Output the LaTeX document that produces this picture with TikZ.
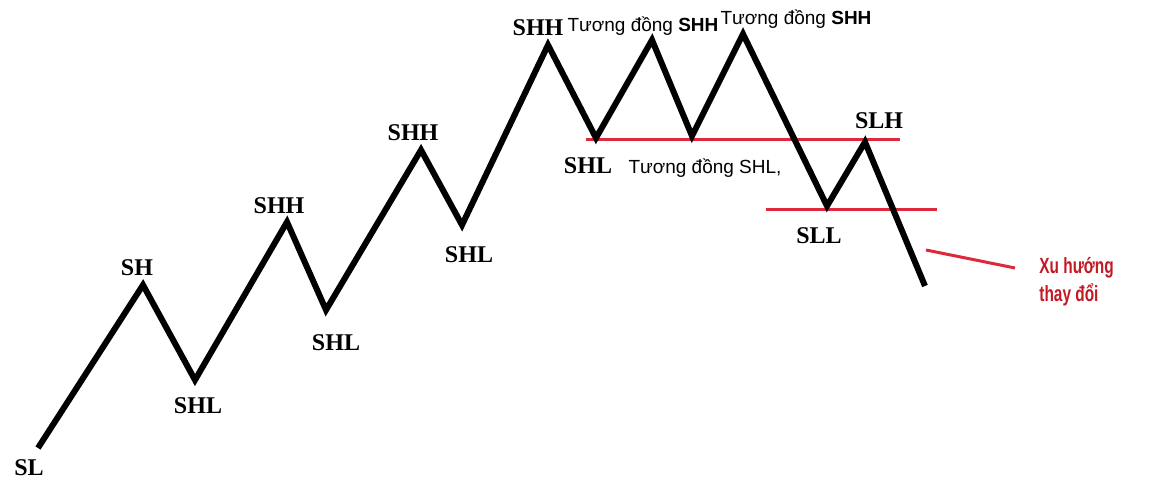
\documentclass[tikz,border=0pt]{standalone}
\usepackage{fontspec}
\setmainfont{Liberation Serif}
\newfontfamily\labsans{Liberation Sans}
\newfontfamily\notefont[FakeStretch=0.7]{Liberation Sans}
\definecolor{lvl}{RGB}{222,40,60}
\definecolor{note}{RGB}{195,25,35}
\begin{document}
\begin{tikzpicture}[x=0.5pt,y=-0.5pt,
  swing/.style={line width=3pt,black,line join=miter},
  level/.style={line width=1.5pt,lvl},
  pt/.style={font=\bfseries\fontsize{12}{14}\selectfont,inner sep=0pt},
  same/.style={font=\labsans\fontsize{9.5}{11}\selectfont,inner sep=0pt},
  notetext/.style={font=\notefont\bfseries\fontsize{11}{14}\selectfont,text=note,inner sep=0pt,align=left}]
\useasboundingbox (0,0) rectangle (1149,485);
% swing points
\coordinate (p0) at (38,448);
\coordinate (p1) at (143,285);
\coordinate (p2) at (195,380);
\coordinate (p3) at (287,222);
\coordinate (p4) at (326,310);
\coordinate (p5) at (421,150);
\coordinate (p6) at (462,225);
\coordinate (p7) at (548,45);
\coordinate (p8) at (596,138);
\coordinate (p9) at (652,40);
\coordinate (p10) at (692,136);
\coordinate (p11) at (743,34);
\coordinate (p12) at (827,206);
\coordinate (p13) at (865,142);
\coordinate (p14) at (925,286);
% red levels
\coordinate (a1) at (586,140);
\coordinate (a2) at (900,140);
\coordinate (b1) at (766,210);
\coordinate (b2) at (937,210);
\coordinate (c1) at (926,250);
\coordinate (c2) at (1015,268);
\draw[level] (a1) -- (a2);
\draw[level] (b1) -- (b2);
\draw[level] (c1) -- (c2);
\draw[swing] (p0) -- (p1) -- (p2) -- (p3) -- (p4) -- (p5) -- (p6) -- (p7) -- (p8) -- (p9) -- (p10) -- (p11) -- (p12) -- (p13) -- (p14);
% labels
\node[pt] (lSL) at (29,468) {SL};
\node[pt] (lSH) at (137,268) {SH};
\node[pt] (lSHL1) at (198,406) {SHL};
\node[pt] (lSHH1) at (279,206) {SHH};
\node[pt] (lSHL2) at (336,343) {SHL};
\node[pt] (lSHH2) at (413,133) {SHH};
\node[pt] (lSHL3) at (469,255) {SHL};
\node[pt] (lSHH3) at (538,28) {SHH};
\node[pt] (lSHL4) at (588,166) {SHL};
\node[pt] (lSLH) at (879,121) {SLH};
\node[pt] (lSLL) at (819,236) {SLL};
\node[same] (t1) at (643,26) {Tương đồng \textbf{SHH}};
\node[same] (t2) at (796,19) {Tương đồng \textbf{SHH}};
\node[same] (t3) at (705,168) {Tương đồng SHL,};
\node[notetext,anchor=west] (xu) at (1039,282) {Xu hướng\\thay đổi};
\end{tikzpicture}
\end{document}
